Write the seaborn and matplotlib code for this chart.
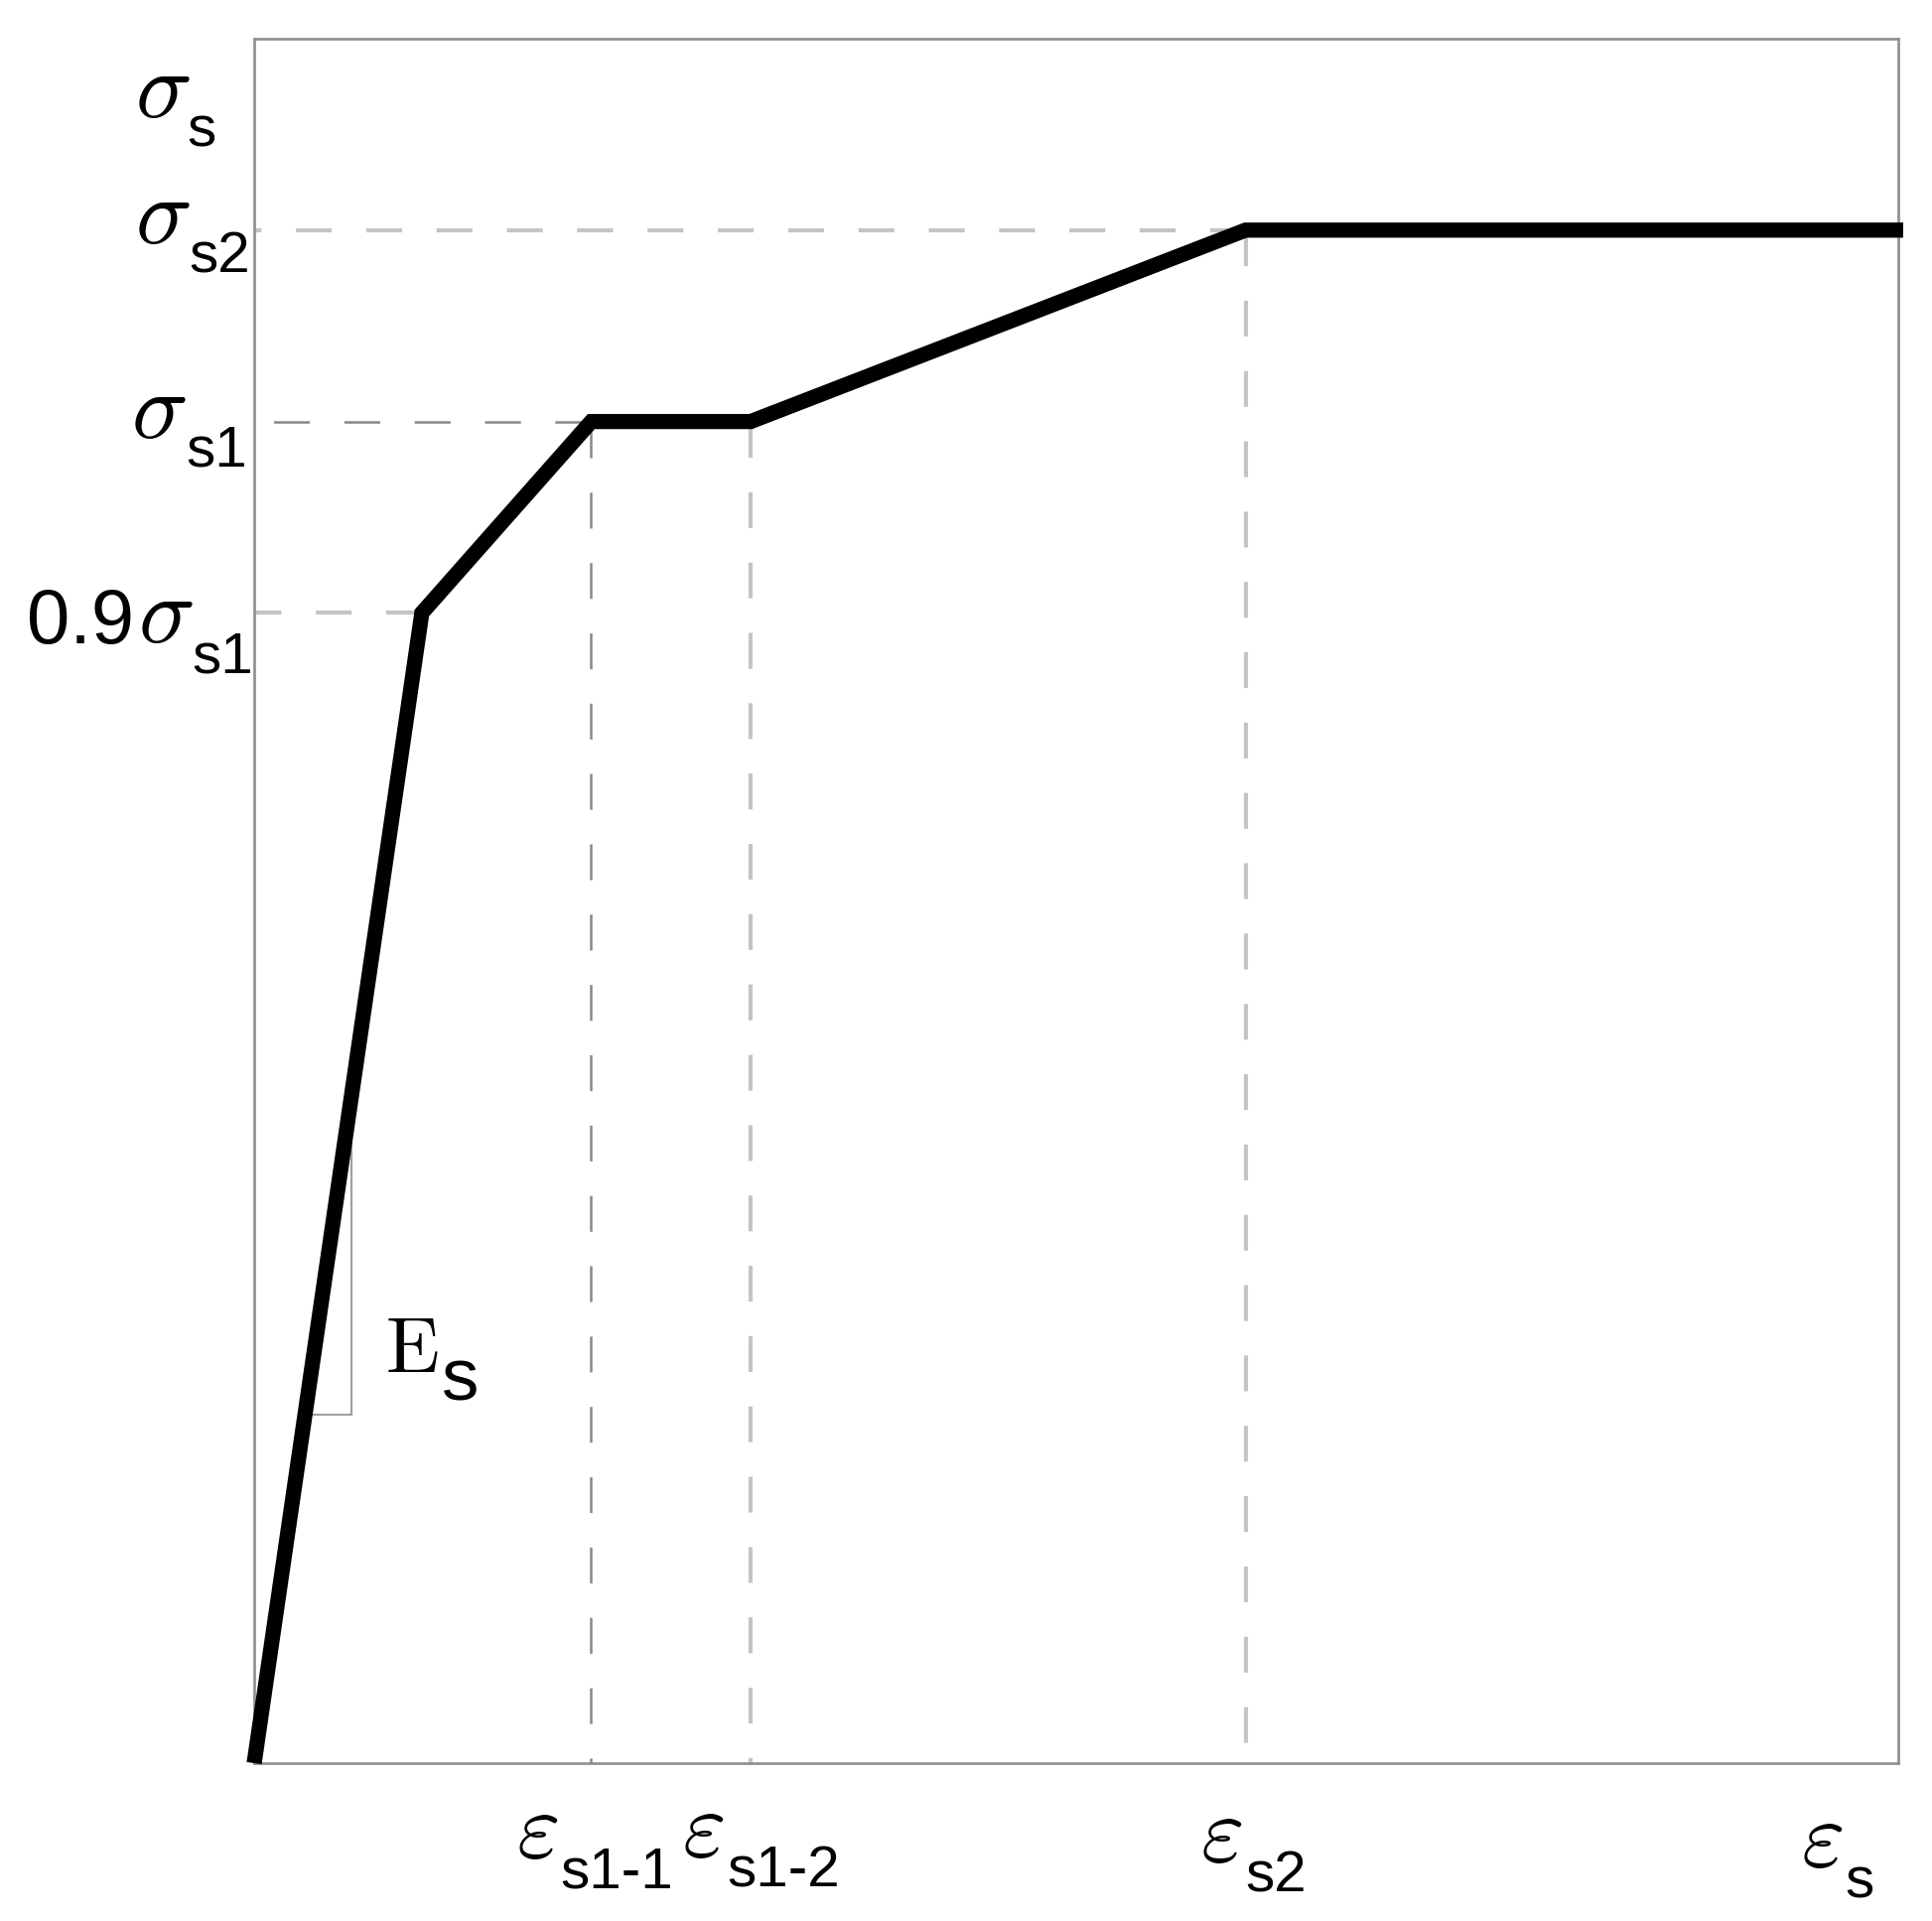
import matplotlib
matplotlib.use("Agg")
import matplotlib.pyplot as plt
import seaborn as sns
import pandas as pd

# ---------------- data (normalised schematic values) ----------------
strain = [0.0, 0.102, 0.205, 0.302, 0.603, 1.003]
stress = [0.0, 0.667, 0.778, 0.778, 0.889, 0.889]

# slope triangle for E_s (on the elastic branch)
tri_x = [0.031, 0.059, 0.059]
tri_y = [0.202, 0.202, 0.387]

# guide lines: index into the curve vertices
h_guide_idx = [1, 2, 4]          # 0.9σs1, σs1, σs2
h_guide_dark = [False, True, False]
v_guide_idx = [2, 3, 4]          # εs1-1, εs1-2, εs2
v_guide_dark = [True, False, False]

y_prefix = ["0.9", "", ""]
y_subs = ["s1", "s1", "s2"]
x_subs = ["s1-1", "s1-2", "s2"]
axis_sub = "s"

# ---------------- style ----------------
sns.set_theme(style="white")
plt.rcParams["font.family"] = ["Liberation Sans", "DejaVu Sans"]
plt.rcParams["lines.scale_dashes"] = False

W, H, DPI = 1946, 1935, 100
fig = plt.figure(figsize=(W / DPI, H / DPI), dpi=DPI)
fig.patch.set_facecolor("white")
ax = fig.add_axes([256 / W, 1 - 1776 / H, 1656 / W, 1737 / H])
ax.set_xlim(0, 1)
ax.set_ylim(0, 1)
ax.set_xticks([])
ax.set_yticks([])
for sp in ax.spines.values():
    sp.set_color("#8e8e8e")
    sp.set_linewidth(1.9)
    sp.set_visible(True)

LIGHT = dict(color="#c4c4c4", lw=3.0, dashes=(26, 25), solid_capstyle="butt",
             dash_capstyle="butt")
DARK = dict(color="#888888", lw=1.8, dashes=(26, 25), solid_capstyle="butt",
            dash_capstyle="butt")

# horizontal guides (drawn from the vertex towards the stress axis)
for i, dark in zip(h_guide_idx, h_guide_dark):
    ax.plot([strain[i], 0], [stress[i], stress[i]], zorder=1,
            **(DARK if dark else LIGHT))
# vertical guides (drawn from the vertex towards the strain axis)
for i, dark in zip(v_guide_idx, v_guide_dark):
    ax.plot([strain[i], strain[i]], [stress[i], 0], zorder=1,
            **(DARK if dark else LIGHT))

# slope triangle
ax.plot(tri_x, tri_y, color="#a0a0a0", lw=1.5, zorder=2,
        solid_joinstyle="miter", solid_capstyle="butt")

# main stress-strain curve
df = pd.DataFrame({"strain": strain, "stress": stress})
sns.lineplot(data=df, x="strain", y="stress", ax=ax, color="black",
             linewidth=11, sort=False, zorder=3)
ln = ax.get_lines()[-1]
ln.set_solid_joinstyle("miter")
ln.set_solid_capstyle("butt")
ln.set_clip_on(False)
ax.set_xlabel("")
ax.set_ylabel("")

GREEK = 68
SUB = 42


def put(txt, xy, coords, dx, dy, size, math=False):
    kw = dict(xy=xy, xycoords=coords, xytext=(dx, dy),
              textcoords="offset pixels", ha="left", va="baseline",
              fontsize=size, color="black", annotation_clip=False)
    if math:
        kw["math_fontfamily"] = "cm"
    else:
        kw["fontfamily"] = "Liberation Sans"
    ax.annotate(txt, **kw)


# ----- stress axis labels -----
ycoords = ("axes fraction", "data")
y_label_idx = [1, 2, 4]
sig_off = [(-117, -30), (-124, -16), (-120, -13)]
sub_off = [(-63, -60), (-69, -45), (-66, -43)]
for k, i in enumerate(y_label_idx):
    v = stress[i]
    if y_prefix[k]:
        put(y_prefix[k], (0, v), ycoords, -229, -31, 56)
    put(r"$\sigma$", (0, v), ycoords, sig_off[k][0], sig_off[k][1], GREEK, math=True)
    put(y_subs[k], (0, v), ycoords, sub_off[k][0], sub_off[k][1], SUB)
# axis name σs at top
put(r"$\sigma$", (0, 1), "axes fraction", -120, -79, GREEK, math=True)
put(axis_sub, (0, 1), "axes fraction", -68, -108, SUB)

# ----- strain axis labels -----
xcoords = ("data", "axes fraction")
eps_off = [(-75, -95), (-69, -94), (-46, -99)]
xsub_off = [(-31, -125), (-24, -124), (0, -129)]
for k, i in enumerate(v_guide_idx):
    u = strain[i]
    put(r"$\varepsilon$", (u, 0), xcoords, eps_off[k][0], eps_off[k][1], GREEK, math=True)
    put(x_subs[k], (u, 0), xcoords, xsub_off[k][0], xsub_off[k][1], SUB)
put(r"$\varepsilon$", (1, 0), "axes fraction", -98, -104, GREEK, math=True)
put(axis_sub, (1, 0), "axes fraction", -54, -135, SUB)

# ----- E_s label next to the triangle -----
corner = (tri_x[1], tri_y[1])
put(r"$\mathrm{E}$", corner, "data", 34, 43, 57, math=True)
put("s", corner, "data", 91, 15, 54)

fig.savefig("out.png", dpi=DPI, facecolor="white")
